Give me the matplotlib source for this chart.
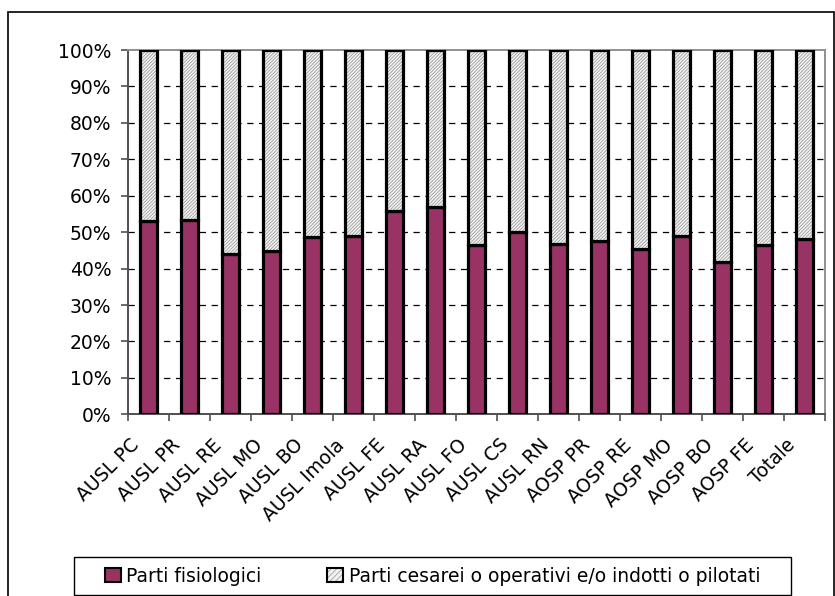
import numpy as np
import matplotlib.pyplot as plt
from matplotlib.patches import Patch, Rectangle
from matplotlib.transforms import ScaledTranslation
from matplotlib.legend_handler import HandlerTuple

plt.rcParams['font.family'] = ['DejaVu Sans']
plt.rcParams['hatch.linewidth'] = 0.6

# dati
categorie = ['AUSL PC', 'AUSL PR', 'AUSL RE', 'AUSL MO', 'AUSL BO', 'AUSL Imola',
             'AUSL FE', 'AUSL RA', 'AUSL FO', 'AUSL CS', 'AUSL RN', 'AOSP PR',
             'AOSP RE', 'AOSP MO', 'AOSP BO', 'AOSP FE', 'Totale']
fisiologici = [53.1, 53.3, 44.0, 44.7, 48.8, 48.9, 55.9, 57.0, 46.6, 50.1,
               46.7, 47.5, 45.5, 48.9, 41.8, 46.4, 48.2]
cesarei = [100 - v for v in fisiologici]
serie = ['Parti fisiologici', 'Parti cesarei o operativi e/o indotti o pilotati']
ytick_labels = ['0%', '10%', '20%', '30%', '40%', '50%', '60%', '70%', '80%', '90%', '100%']

W, H = 835, 596
fs = 13.5
fig = plt.figure(figsize=(W / 100, H / 100), dpi=100)
ax = fig.add_axes([128 / W, 1 - 414.3 / H, (825 - 128) / W, (414.3 - 50) / H])

x = np.arange(len(categorie))
w = 0.4
maroon = '#993366'

ax.bar(x, fisiologici, w, color=maroon, edgecolor='black', linewidth=2.3, zorder=3)
ax.bar(x, cesarei, w, bottom=fisiologici, facecolor='#f2f2f2', edgecolor='#a0a0a0',
       hatch='//////////', linewidth=0, zorder=3)
ax.bar(x, cesarei, w, bottom=fisiologici, facecolor='none', edgecolor='black',
       linewidth=2.3, zorder=4)

ax.set_xlim(-0.5, len(categorie) - 0.5)
ax.set_ylim(0, 100)
ax.set_yticks(np.arange(0, 101, 10))
ax.set_yticklabels(ytick_labels, fontsize=fs)
for yv in range(10, 100, 10):
    ax.axhline(yv, color='black', linewidth=0.9, linestyle=(0, (5, 4.5)), zorder=1)

for s in ['top', 'right']:
    ax.spines[s].set_color('#909090')
    ax.spines[s].set_linewidth(1.4)
for s in ['left', 'bottom']:
    ax.spines[s].set_color('#505050')
    ax.spines[s].set_linewidth(1.4)

ax.tick_params(axis='y', length=5, width=1.2, color='#505050', pad=7)
ax.set_xticks(x)
ax.set_xticks(np.arange(-0.5, len(categorie), 1), minor=True)
ax.tick_params(axis='x', which='major', length=0, pad=20)
ax.tick_params(axis='x', which='minor', length=5, width=1.2, color='#505050')
ax.set_xticklabels(categorie, rotation=45, ha='right', va='center',
                   rotation_mode='anchor', fontsize=fs)
offset = ScaledTranslation(-12 / 100, 0, fig.dpi_scale_trans)
for lab in ax.get_xticklabels():
    lab.set_transform(lab.get_transform() + offset)

# legenda
h1 = Patch(facecolor=maroon, edgecolor='black', linewidth=1.5)
h2a = Patch(facecolor='#f2f2f2', edgecolor='#a0a0a0', hatch='//////', linewidth=0)
h2b = Patch(facecolor='none', edgecolor='black', linewidth=1.5)
fig.legend([h1, (h2a, h2b)], serie, ncol=2, loc='center',
           bbox_to_anchor=(432.5 / W, 1 - 576 / H), frameon=False, fontsize=fs,
           handlelength=0.85, handleheight=0.85, handletextpad=0.3,
           columnspacing=3.5, handler_map={tuple: HandlerTuple(ndivide=1, pad=0)})
fig.add_artist(Rectangle((74 / W, 1 - 595 / H), (791 - 74) / W, (595 - 557) / H,
                         transform=fig.transFigure, facecolor='none',
                         edgecolor='black', linewidth=1))

# cornice esterna
fig.add_artist(Rectangle((7.5 / W, -0.05), (833.5 - 7.5) / W, 1.05 - 12 / H,
                         transform=fig.transFigure, facecolor='none',
                         edgecolor='black', linewidth=1.2))

fig.savefig('out.png', dpi=100)
